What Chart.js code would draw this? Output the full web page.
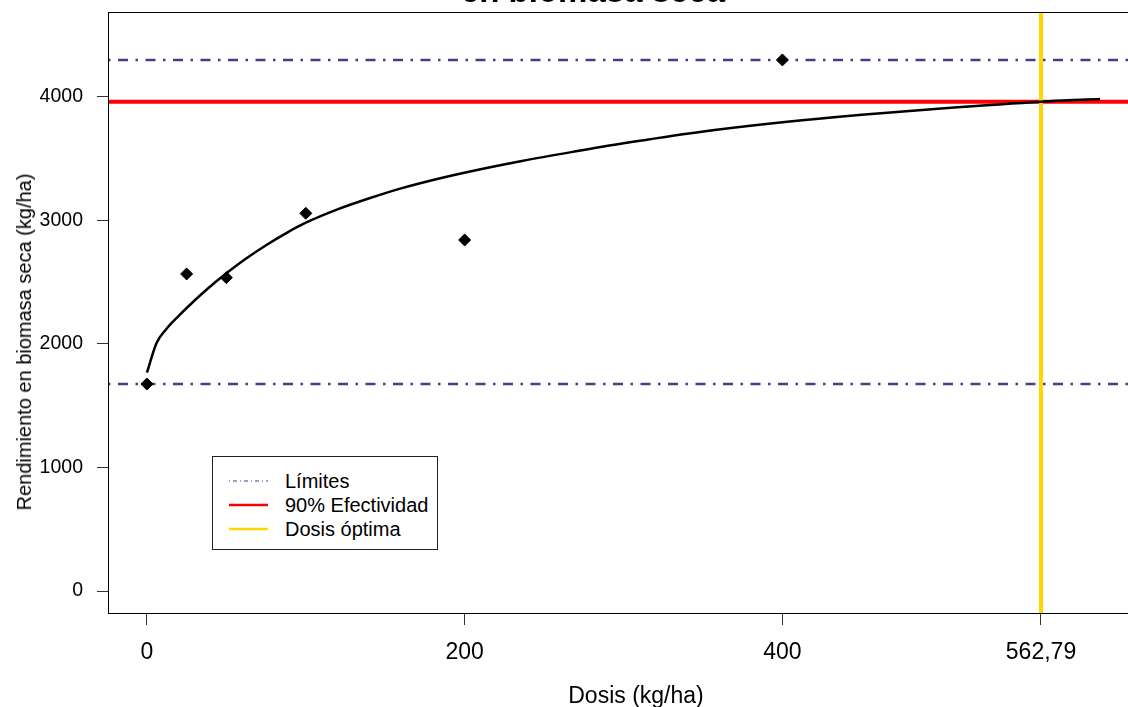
<!DOCTYPE html>
<html>
<head>
<meta charset="utf-8">
<script src="https://cdn.jsdelivr.net/npm/chart.js@4.4.1/dist/chart.umd.min.js"></script>
<style>
  html, body { margin: 0; padding: 0; background: #fff; overflow: hidden; }
  body { width: 1128px; height: 707px; position: relative; font-family: 'Liberation Sans', Arial, sans-serif; color: #000; }
  #wrap { position: absolute; left: 0; top: 0; width: 1150px; height: 707px; }
  .lbl { position: absolute; white-space: nowrap; }
  #title { left: 393px; width: 400px; top: -29px; text-align: center; font: bold 33px/40px 'Liberation Sans', Arial, sans-serif; }
  #xTitle { left: 436px; width: 400px; top: 681px; text-align: center; font: 23px/28px 'Liberation Sans', Arial, sans-serif; }
  #yTitle { left: 24px; top: 342px; font: 20px/20px 'Liberation Sans', Arial, sans-serif; transform: translate(-50%, -50%) rotate(-90deg); }
  #legend { position: absolute; left: 212px; top: 456px; width: 226px; height: 94px; box-sizing: border-box; border: 1px solid #222; background: #fff; }
  #legend .row { position: absolute; left: 0; width: 100%; height: 24px; font: 20px/24px 'Liberation Sans', Arial, sans-serif; }
  #legend svg { position: absolute; left: 16px; top: 0; }
  #legend span { position: absolute; left: 72px; top: 0; }
</style>
</head>
<body>
<div id="wrap"><canvas id="chart" width="1150" height="707"></canvas></div>
<div class="lbl" id="title">en biomasa seca</div>
<div class="lbl" id="xTitle">Dosis (kg/ha)</div>
<div class="lbl" id="yTitle">Rendimiento en biomasa seca (kg/ha)</div>
<div id="legend"></div>
<script>
// observed yield per dose
const dosis = [0, 25, 50, 100, 200, 400];
const rendimiento = [1676, 2567, 2537, 3058, 2842, 4300];

// fitted curve
const curvaDosis = [0, 6, 12, 20, 28, 38, 50, 62, 75, 88, 100, 120, 142, 160, 184, 210, 236, 270, 300, 347, 400, 450, 500, 562.79, 600];
const curvaRend = [1768, 2006, 2118, 2228, 2328, 2445, 2572, 2688, 2800, 2900, 2982, 3090, 3188, 3260, 3340, 3415, 3482, 3560, 3625, 3715, 3795, 3856, 3907, 3962, 3984];

const limites = [1676, 4300];
const efectividad90 = 3962;
const dosisOptima = 562.79;

const xTicks = [0, 200, 400, dosisOptima];
const yTicks = [0, 1000, 2000, 3000, 4000];

const legendItems = [
  { label: 'Límites', color: '#483D8B', width: 1, dash: '1 3 4 3' },
  { label: '90% Efectividad', color: '#FF0000', width: 2.5, dash: '' },
  { label: 'Dosis óptima', color: '#FFD700', width: 2.5, dash: '' },
];

Chart.defaults.font.family = "'Liberation Sans', Arial, sans-serif";
Chart.defaults.color = '#000';

const fmt = v => String(v).replace('.', ',');

// keep the plot box exactly where the layout padding puts it
function fixBox(s, key, size) {
  s[key] = size;
  s.paddingTop = 0;
  s.paddingBottom = 0;
  s.paddingLeft = 0;
  s.paddingRight = 0;
}

// horizontal / vertical reference lines (abline style) under the points, and the plot box
const refLines = {
  id: 'refLines',
  beforeDatasetsDraw(chart) {
    const { ctx, chartArea: a, scales: { x, y } } = chart;
    ctx.save();
    ctx.beginPath();
    ctx.rect(a.left, a.top, a.right - a.left, a.bottom - a.top);
    ctx.clip();

    const hline = (v, color, w, dash) => {
      const py = y.getPixelForValue(v);
      ctx.beginPath();
      ctx.setLineDash(dash);
      ctx.lineWidth = w;
      ctx.strokeStyle = color;
      ctx.moveTo(a.left, py);
      ctx.lineTo(a.right, py);
      ctx.stroke();
    };

    hline(efectividad90, '#FF0000', 4, []);

    const px = x.getPixelForValue(dosisOptima);
    ctx.beginPath();
    ctx.setLineDash([]);
    ctx.lineWidth = 4;
    ctx.strokeStyle = '#FFD700';
    ctx.moveTo(px, a.top);
    ctx.lineTo(px, a.bottom);
    ctx.stroke();

    limites.forEach(v => hline(v, '#483D8B', 2.5, [2.5, 7.5, 10, 7.5]));
    ctx.restore();
  },
  afterDraw(chart) {
    const { ctx, chartArea: a } = chart;
    ctx.save();
    ctx.lineWidth = 1;
    ctx.strokeStyle = '#000';
    ctx.strokeRect(Math.round(a.left) + 0.5, Math.round(a.top) + 0.5,
      Math.round(a.right - a.left), Math.round(a.bottom - a.top));
    ctx.restore();
  },
};

new Chart(document.getElementById('chart'), {
  type: 'scatter',
  data: {
    datasets: [
      {
        label: 'Observado',
        data: dosis.map((d, i) => ({ x: d, y: rendimiento[i] })),
        pointStyle: 'rectRot',
        pointRadius: 6,
        pointBorderWidth: 1,
        backgroundColor: '#000',
        borderColor: '#000',
        order: 2,
      },
      {
        label: 'Curva',
        data: curvaDosis.map((d, i) => ({ x: d, y: curvaRend[i] })),
        showLine: true,
        pointRadius: 0,
        borderColor: '#000',
        borderWidth: 2.5,
        cubicInterpolationMode: 'monotone',
        order: 1,
      },
    ],
  },
  options: {
    responsive: false,
    animation: false,
    layout: { padding: { top: 12, left: 0, right: 4, bottom: 0 } },
    plugins: {
      legend: { display: false },
      title: { display: false },
      tooltip: { enabled: false },
    },
    scales: {
      x: {
        type: 'linear',
        min: -24.5,
        max: 627,
        afterFit: s => fixBox(s, 'height', 94),
        afterBuildTicks: s => { s.ticks = xTicks.map(v => ({ value: v })); },
        ticks: {
          autoSkip: false,
          maxRotation: 0,
          padding: 14,
          font: { size: 23 },
          callback: v => fmt(v),
        },
        grid: { drawOnChartArea: false, drawTicks: true, tickLength: 12, color: '#333', lineWidth: 1 },
        border: { display: false },
      },
      y: {
        type: 'linear',
        min: -178,
        max: 4688,
        afterFit: s => fixBox(s, 'width', 108),
        afterBuildTicks: s => { s.ticks = yTicks.map(v => ({ value: v })); },
        ticks: {
          autoSkip: false,
          padding: 14,
          font: { size: 19.5 },
          callback: v => fmt(v),
        },
        grid: { drawOnChartArea: false, drawTicks: true, tickLength: 11, color: '#333', lineWidth: 1 },
        border: { display: false },
      },
    },
  },
  plugins: [refLines],
});

// legend box in the lower left of the plot
const legend = document.getElementById('legend');
legendItems.forEach((item, i) => {
  const row = document.createElement('div');
  row.className = 'row';
  row.style.top = (12 + i * 24) + 'px';
  row.innerHTML =
    `<svg width="39" height="24"><line x1="0" y1="12" x2="39" y2="12" stroke="${item.color}" ` +
    `stroke-width="${item.width}" stroke-dasharray="${item.dash}"/></svg><span>${item.label}</span>`;
  legend.appendChild(row);
});
</script>
</body>
</html>
